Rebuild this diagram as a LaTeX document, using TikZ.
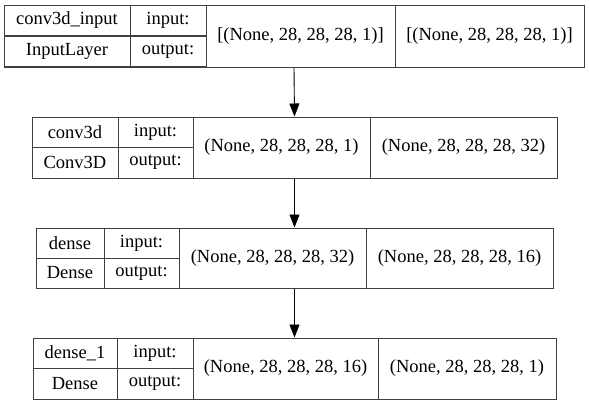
\documentclass[tikz,border=0pt]{standalone}
\usepackage{fontspec}
\setmainfont{Liberation Serif}
\usetikzlibrary{positioning,arrows.meta}

\begin{document}
\begin{tikzpicture}[
  x=1pt, y=-1pt,
  font=\fontsize{18.5}{20}\selectfont,
  row/.style={rectangle, draw=black!75, line width=1pt, inner sep=0pt, minimum height=#1},
  cell/.style={rectangle, draw=black!75, line width=1pt, inner sep=0pt, minimum width=#1},
  half/.style={cell=#1, minimum height=30.5pt},
  full/.style={cell=#1, minimum height=61pt},
  arr/.style={-{Triangle[length=13pt,width=10pt]}, draw=black, line width=0.9pt}
]
\useasboundingbox (0,0) rectangle (589,405);

% conv3d_input
\node[row=62pt, minimum width=580pt] (row1) at (294,36) {};
\node[half=126pt] (inpname) at (67,20.5)   {conv3d\_input};
\node[half=126pt] (inptype) at (67,51.5)   {InputLayer};
\node[half=76pt]  (inpin)   at (168,20.5)  {input:};
\node[half=76pt]  (inpout)  at (168,51.5)  {output:};
\node[full=189pt, minimum height=62pt] (inpinshape)  at (300.5,36) {[(None, 28, 28, 28, 1)]};
\node[full=189pt, minimum height=62pt] (inpoutshape) at (489.5,36) {[(None, 28, 28, 28, 1)]};

% conv3d
\node[row=61pt, minimum width=525pt] (row2) at (294.5,147.5) {};
\node[half=86pt] (convname) at (75,132.25)   {conv3d};
\node[half=86pt] (convtype) at (75,162.75)   {Conv3D};
\node[half=75pt] (convin)   at (155.5,132.25) {input:};
\node[half=75pt] (convout)  at (155.5,162.75) {output:};
\node[full=177pt] (convinshape)  at (281.5,147.5) {(None, 28, 28, 28, 1)};
\node[full=187pt] (convoutshape) at (463.5,147.5) {(None, 28, 28, 28, 32)};

% dense
\node[row=60pt, minimum width=517pt] (row3) at (294.5,258) {};
\node[half=68pt, minimum height=30pt] (densename) at (70,243)    {dense};
\node[half=68pt, minimum height=30pt] (densetype) at (70,273)    {Dense};
\node[half=75pt, minimum height=30pt] (densein)   at (141.5,243) {input:};
\node[half=75pt, minimum height=30pt] (denseout)  at (141.5,273) {output:};
\node[full=187pt, minimum height=60pt] (denseinshape)  at (272.5,258) {(None, 28, 28, 28, 32)};
\node[full=187pt, minimum height=60pt] (denseoutshape) at (459.5,258) {(None, 28, 28, 28, 16)};

% dense_1
\node[row=61pt, minimum width=523pt] (row4) at (294.5,368.5) {};
\node[half=84pt] (lastname) at (75,353.25)  {dense\_1};
\node[half=84pt] (lasttype) at (75,383.75)  {Dense};
\node[half=76pt] (lastin)   at (155,353.25) {input:};
\node[half=76pt] (lastout)  at (155,383.75) {output:};
\node[full=185pt] (lastinshape)  at (285.5,368.5) {(None, 28, 28, 28, 16)};
\node[full=178pt] (lastoutshape) at (467,368.5)   {(None, 28, 28, 28, 1)};

\draw[arr] (row1.south) -- (row2.north);
\draw[arr] (row2.south) -- (row3.north);
\draw[arr] (row3.south) -- (row4.north);
\end{tikzpicture}
\end{document}
